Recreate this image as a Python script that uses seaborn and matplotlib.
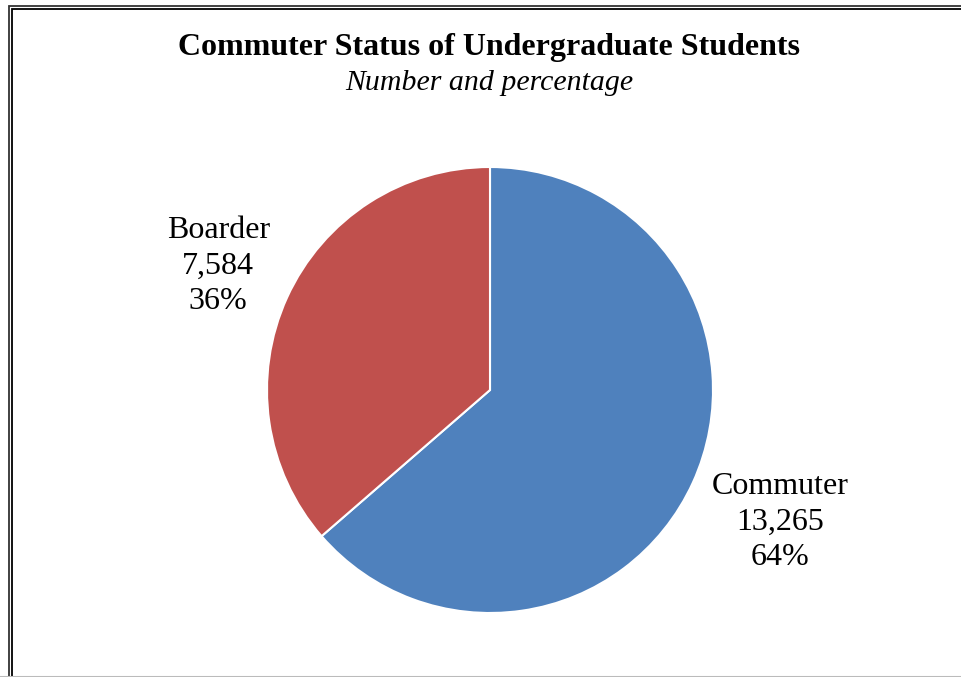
import numpy as np
import seaborn as sns
import matplotlib.pyplot as plt
from matplotlib.patches import Rectangle

categories = ["Commuter", "Boarder"]
counts = [13265, 7584]
colors = ["#4F81BD", "#C0504D"]

title = "Commuter Status of Undergraduate Students"
subtitle = "Number and percentage"

sns.set_theme(style="white")
plt.rcParams['font.family'] = ['Liberation Serif', 'DejaVu Serif']
plt.rcParams['text.color'] = 'black'

W, H = 961, 677
fig = plt.figure(figsize=(W / 100, H / 100), dpi=100)
fig.patch.set_facecolor("white")

# double frame, cut off on the right and bottom
for x0, y0, lw, col in [(8.5, 5.5, 1.3, "#333333"), (11.5, 8.5, 1.3, "black")]:
    fig.add_artist(Rectangle((x0 / W, -0.1), 2.0, (H - y0) / H + 0.1,
                             transform=fig.transFigure, fill=False,
                             edgecolor=col, linewidth=lw))
fig.add_artist(plt.Line2D([0, 1], [0.5 / H, 0.5 / H], transform=fig.transFigure,
                          color="#bbbbbb", linewidth=1.5))

fig.text(489 / W, 1 - 47 / H, title, ha="center", va="center",
         fontsize=23, fontweight="bold")
fig.text(489 / W, 1 - 83 / H, subtitle, ha="center", va="center",
         fontsize=21.5, style="italic")

cx, cy, r = 490, 390, 223
ax = fig.add_axes([(cx - r) / W, (H - cy - r) / H, 2 * r / W, 2 * r / H])
wedges, _ = ax.pie(counts, colors=colors, startangle=90, counterclock=False,
                   radius=1.0, wedgeprops=dict(edgecolor="white", linewidth=1.5))
ax.set_xlim(-1, 1)
ax.set_ylim(-1, 1)
ax.set_aspect("auto")
ax.axis("off")

total = sum(counts)
label_dist = {"Commuter": 1.43, "Boarder": 1.34}
for w, cat, n in zip(wedges, categories, counts):
    mid = np.deg2rad((w.theta1 + w.theta2) / 2)
    d = label_dist[cat]
    ax.text(d * np.cos(mid), d * np.sin(mid),
            f"{cat}\n{n:,}\n{round(100 * n / total)}%",
            ha="center", va="center", fontsize=23, linespacing=1.3,
            clip_on=False)

fig.savefig("out.png", dpi=100)
